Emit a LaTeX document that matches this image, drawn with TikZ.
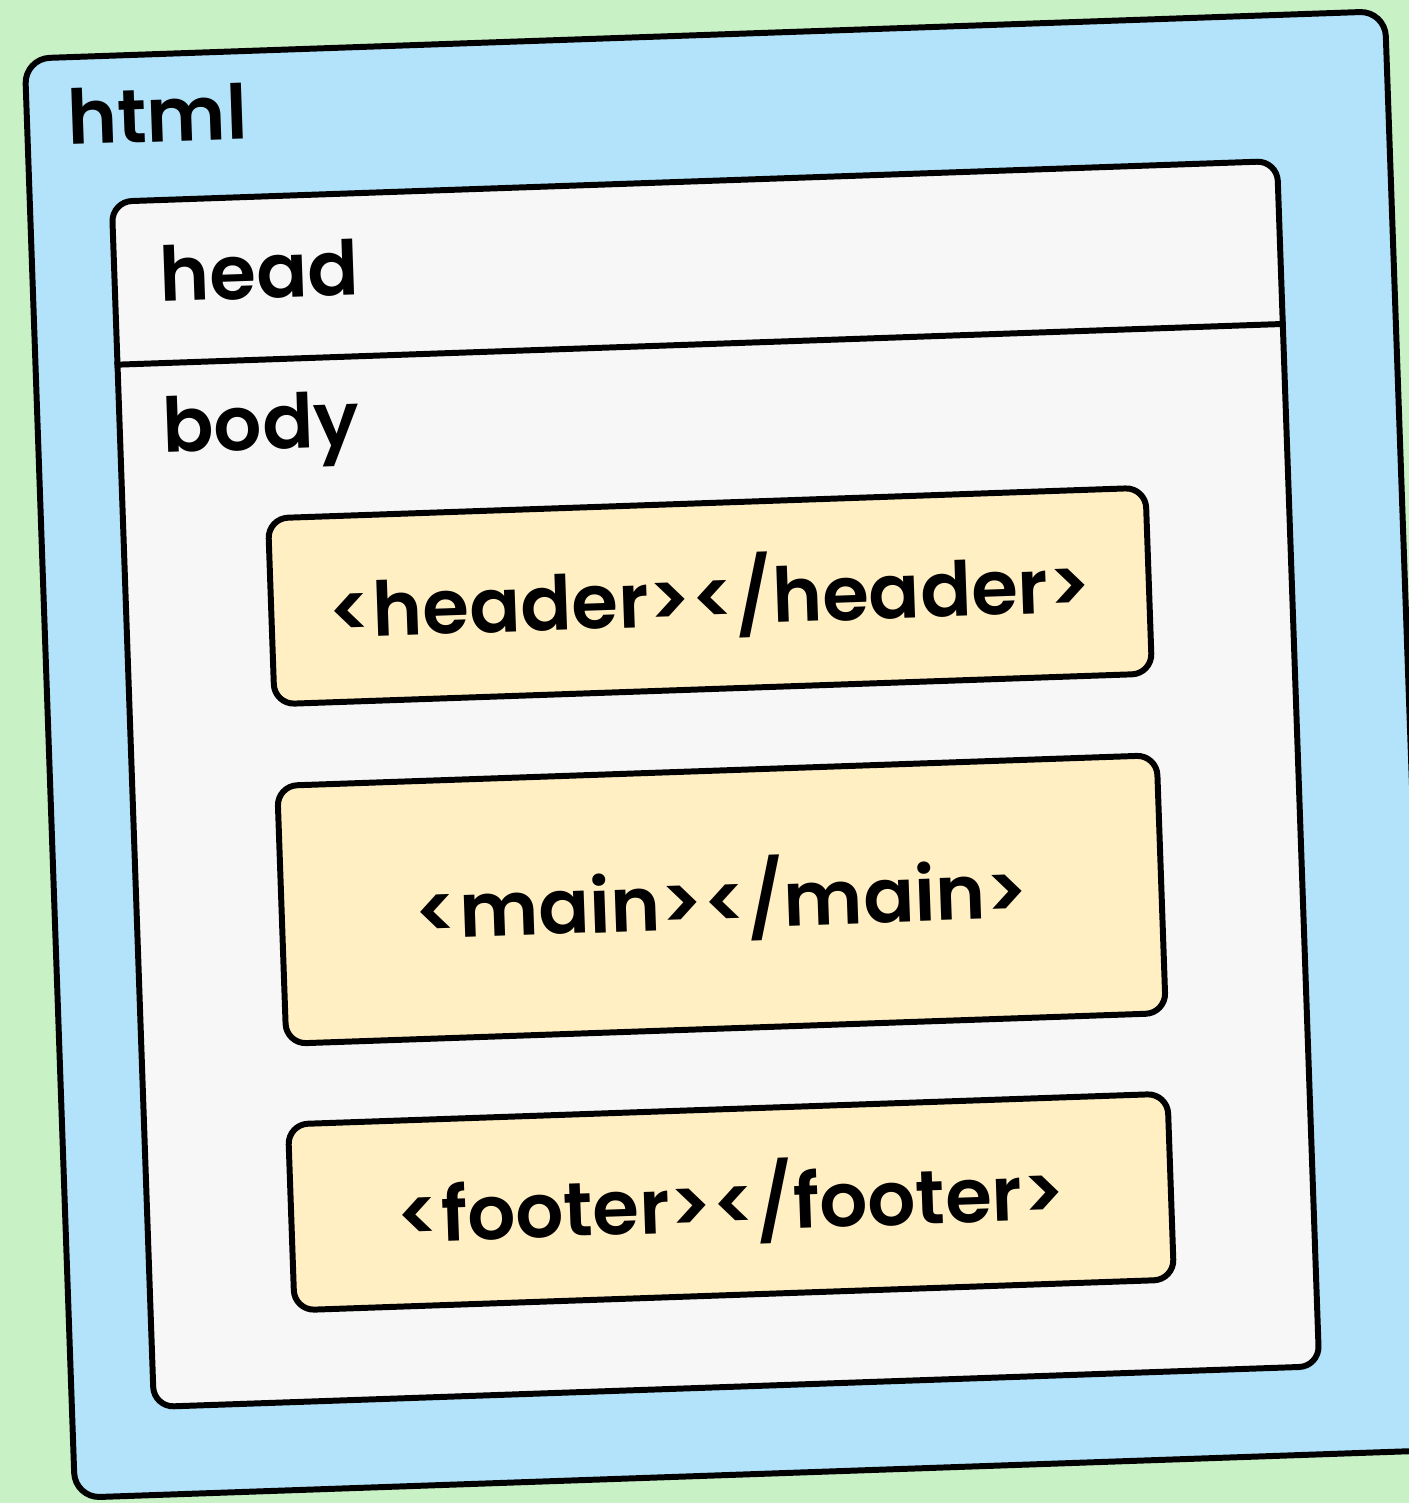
\documentclass[tikz,border=0pt]{standalone}
\usepackage{fontspec}
\setmainfont{Poppins}[BoldFont={Poppins SemiBold}]
\usetikzlibrary{calc}
\definecolor{bggreen}{HTML}{C9F1C6}
\definecolor{htmlblue}{HTML}{B3E3FA}
\definecolor{pagewhite}{HTML}{F7F7F8}
\definecolor{tagyellow}{HTML}{FFEFC3}
\begin{document}
\begin{tikzpicture}[
  box/.style={draw, line width=1.7pt, rounded corners=0.2cm, rotate=2, inner sep=0pt,
    font=\fontsize{21.5}{25}\selectfont\bfseries},
  lbl/.style={rotate=2, anchor=base west, inner sep=0pt, font=\fontsize{21.5}{25}\selectfont\bfseries}]
  \useasboundingbox (0,0) rectangle (14.09,-15.03);
  \fill[bggreen] (0,0) rectangle (14.09,-15.03);
  \node[box, fill=htmlblue, rounded corners=0.25cm, minimum width=13.61cm, minimum height=14.40cm] (html) at (7.30,-7.545) {};
  \node[box, fill=pagewhite, minimum width=11.66cm, minimum height=12.06cm] (page) at (7.155,-7.84) {};
  \draw[line width=1.7pt] ($(page.north west)!0.137!(page.south west)$) -- ($(page.north east)!0.137!(page.south east)$);
  \node[lbl] (a) at (0.68,-1.45) {html};
  \node[lbl] (b) at (1.60,-3.02) {head};
  \node[lbl] (c) at (1.63,-4.53) {body};
  \node[box, fill=tagyellow, minimum width=8.78cm, minimum height=1.86cm] (hdr) at (7.10,-5.96) {<header></header>};
  \node[box, fill=tagyellow, minimum width=8.80cm, minimum height=2.58cm] (mn) at (7.215,-8.995) {<main></main>};
  \node[box, fill=tagyellow, minimum width=8.80cm, minimum height=1.86cm] (ftr) at (7.31,-12.02) {<footer></footer>};
\end{tikzpicture}
\end{document}
